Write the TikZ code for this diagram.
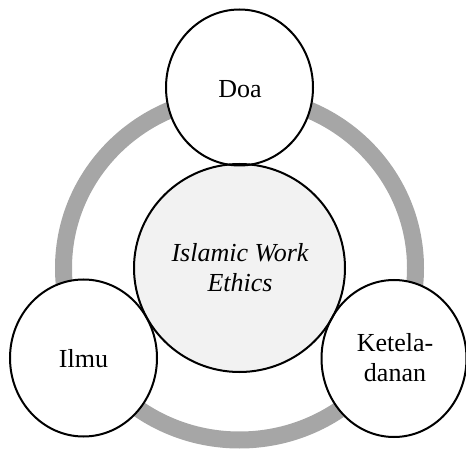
\documentclass[tikz,border=0pt]{standalone}
\usepackage{fontspec}
\setmainfont{Liberation Serif}
\newfontfamily\timesf{Liberation Serif}
\begin{document}
\begin{tikzpicture}[x=1pt,y=-1pt,
  lbl/.style={align=center, inner sep=0pt, font=\timesf\fontsize{26}{30}\selectfont},
  outl/.style={draw=black, line width=2pt}]
\useasboundingbox (0,0) rectangle (466,449);
% ring
\draw[line width=17pt, color={rgb,255:red,166;green,166;blue,166}] (239.5,268) ellipse [x radius=176, y radius=172];
% satellites fill
\fill[white] (239.5,87.5) ellipse [x radius=73.5, y radius=78];
\fill[white] (83.5,358) ellipse [x radius=73.5, y radius=78.5];
\fill[white] (394,358.5) ellipse [x radius=72.5, y radius=78.5];
% centre fill
\fill[color={rgb,255:red,242;green,242;blue,242}] (239.5,268) ellipse [x radius=105.5, y radius=104];
% outlines
\draw[outl] (239.5,268) ellipse [x radius=105.5, y radius=104];
\draw[outl] (239.5,87.5) ellipse [x radius=73.5, y radius=78];
\draw[outl] (83.5,358) ellipse [x radius=73.5, y radius=78.5];
\draw[outl] (394,358.5) ellipse [x radius=72.5, y radius=78.5];
% texts
\node[lbl] (c) at (240,268) {\itshape Islamic Work\\\itshape Ethics};
\node[lbl] (d) at (240,89) {Doa};
\node[lbl] (i) at (83.5,359) {Ilmu};
\node[lbl] (k) at (395,358) {Ketela-\\danan};
\end{tikzpicture}
\end{document}
